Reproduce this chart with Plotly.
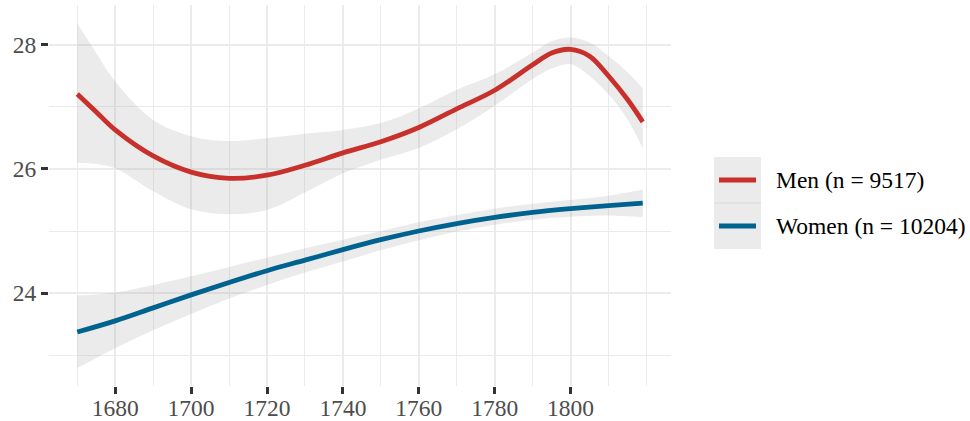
import plotly.graph_objects as go

# ---- data ----
years_m = [1670, 1675, 1680, 1690, 1700, 1710, 1720, 1730, 1740, 1750, 1760,
           1770, 1780, 1790, 1795, 1800, 1805, 1810, 1815, 1819]
men = [27.21, 26.92, 26.63, 26.21, 25.95, 25.85, 25.90, 26.06, 26.26, 26.44, 26.67,
       26.97, 27.27, 27.68, 27.87, 27.93, 27.82, 27.50, 27.12, 26.76]
men_hi = [28.35, 27.87, 27.41, 26.79, 26.53, 26.45, 26.50, 26.57, 26.63, 26.74, 26.98,
          27.28, 27.53, 27.88, 28.06, 28.12, 28.04, 27.82, 27.56, 27.30]
men_lo = [26.10, 26.08, 26.01, 25.64, 25.35, 25.27, 25.34, 25.62, 25.93, 26.15, 26.34,
          26.64, 27.02, 27.45, 27.62, 27.69, 27.50, 27.20, 26.80, 26.33]

years_w = [1670, 1680, 1690, 1700, 1710, 1720, 1730, 1740, 1750, 1760,
           1770, 1780, 1790, 1800, 1810, 1819]
women = [23.37, 23.55, 23.76, 23.97, 24.17, 24.36, 24.53, 24.70, 24.86, 25.00,
         25.12, 25.22, 25.30, 25.36, 25.41, 25.45]
women_hi = [23.96, 24.01, 24.13, 24.27, 24.42, 24.57, 24.72, 24.86, 25.00, 25.14,
            25.26, 25.36, 25.44, 25.50, 25.57, 25.67]
women_lo = [22.79, 23.11, 23.40, 23.66, 23.91, 24.13, 24.33, 24.51, 24.69, 24.85,
            24.99, 25.10, 25.18, 25.23, 25.25, 25.22]

series_names = ["Men (n = 9517)", "Women (n = 10204)"]
series_colors = ["#c8302c", "#00628f"]

x_ticks = [1680, 1700, 1720, 1740, 1760, 1780, 1800]
x_minor = [1670, 1690, 1710, 1730, 1750, 1770, 1790, 1810, 1820]
y_ticks = [24, 26, 28]
y_minor = [23, 25, 27]

# ---- figure ----
RIBBON = "rgba(153,153,153,0.2)"
FONT = "Liberation Serif"

fig = go.Figure()
for yrs, lo, hi in [(years_m, men_lo, men_hi), (years_w, women_lo, women_hi)]:
    fig.add_trace(go.Scatter(x=yrs, y=lo, mode="lines", line=dict(width=0, shape="spline"),
                             hoverinfo="skip", showlegend=False))
    fig.add_trace(go.Scatter(x=yrs, y=hi, mode="lines", line=dict(width=0, shape="spline"),
                             fill="tonexty", fillcolor=RIBBON, hoverinfo="skip",
                             showlegend=False))

for yrs, vals, name, col in [(years_m, men, series_names[0], series_colors[0]),
                             (years_w, women, series_names[1], series_colors[1])]:
    fig.add_trace(go.Scatter(x=yrs, y=vals, mode="lines", name=name,
                             line=dict(color=col, width=4.8, shape="spline"),
                             showlegend=False))

# plot area in pixels: x 49..671, y 5..386
L, R, T, B = 49, 671, 5, 386
def px(x):
    return (x - L) / (R - L)
def py(y):
    return (B - y) / (B - T)

shapes = [
    dict(type="rect", xref="paper", yref="paper", x0=px(714), x1=px(761),
         y0=py(249), y1=py(157), fillcolor="#ebebeb", line=dict(width=0), layer="above"),
    dict(type="line", xref="paper", yref="paper", x0=px(714), x1=px(761),
         y0=py(203), y1=py(203), line=dict(color="#d9d9d9", width=1), layer="above"),
]
annotations = []
for i, (name, col) in enumerate(zip(series_names, series_colors)):
    yc = 180 + 46 * i
    shapes.append(dict(type="line", xref="paper", yref="paper", x0=px(719), x1=px(756),
                       y0=py(yc), y1=py(yc), line=dict(color=col, width=4.8), layer="above"))
    annotations.append(dict(xref="paper", yref="paper", x=px(774), y=py(yc), text=name,
                            showarrow=False, xanchor="left", yanchor="middle",
                            font=dict(family=FONT, size=23.5, color="black")))

axis_common = dict(
    showline=False, zeroline=False, ticks="outside", ticklen=7, tickwidth=2.5,
    tickcolor="#333333", showgrid=True, gridcolor="#ebebeb", gridwidth=2.4,
    tickfont=dict(family=FONT, size=23.5, color="#4d4d4d"), automargin=False,
)

fig.update_layout(
    width=970, height=421,
    margin=dict(l=L, r=970 - R, t=T, b=421 - B),
    paper_bgcolor="white", plot_bgcolor="white",
    xaxis=dict(range=[1662.55, 1826.45], tickmode="array", tickvals=x_ticks,
               ticklabelstandoff=-6,
               minor=dict(tickmode="array", tickvals=x_minor, showgrid=True,
                          gridcolor="#ebebeb", gridwidth=1.3, ticks=""),
               **axis_common),
    yaxis=dict(range=[22.5, 28.645], tickmode="array", tickvals=y_ticks,
               minor=dict(tickmode="array", tickvals=y_minor, showgrid=True,
                          gridcolor="#ebebeb", gridwidth=1.3, ticks=""),
               **axis_common),
    shapes=shapes, annotations=annotations, showlegend=False,
)

fig.write_html("out.html")
